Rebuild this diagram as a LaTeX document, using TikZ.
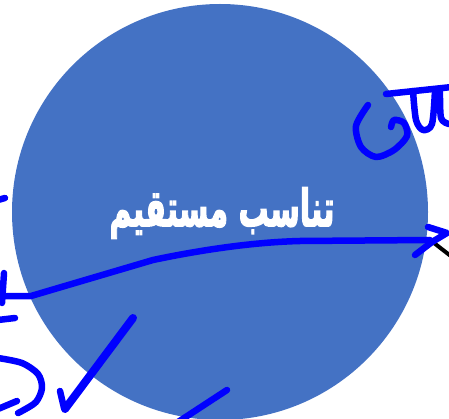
\documentclass[tikz,border=0pt]{standalone}
\usepackage{fontspec}
\usepackage{graphicx}
\TeXXeTstate=1
\newfontfamily\arabicfont[Script=Arabic,FakeBold=3]{DejaVu Sans}
\definecolor{disc}{HTML}{4472C4}
\definecolor{ink}{HTML}{0000FF}
\tikzset{
  inkstroke/.style={draw=ink, line width=6.5pt, line cap=round, line join=round},
  blackstroke/.style={draw=black, line width=4pt, line cap=round},
  label/.style={text=white, font=\arabicfont\bfseries\fontsize{30}{34}\selectfont, inner sep=0pt}
}
\begin{document}
\begin{tikzpicture}[x=1pt, y=-1pt]
\useasboundingbox (0,0) rectangle (449,419);
\clip (0,0) rectangle (449,419);
% disc
\fill[disc] (220,212) circle[radius=208];
\node[label] (title) at (222,213) {\scalebox{1}[1.7]{\beginR تناسب مستقیم\endR}};
% black tail
\coordinate (bt1) at (434,243);
\coordinate (bt2) at (452,257);
\draw[blackstroke] (bt1) -- (bt2);
% arrow
\coordinate (a0) at (0,296);
\coordinate (a1) at (31,296);
\coordinate (a2) at (153,260);
\coordinate (a3) at (430,240);
\draw[inkstroke] (a0) -- (a1) -- (a2) .. controls (210,248) and (260,242) .. (300,241) -- (a3);
\draw[inkstroke] (428,227) -- (447,233) -- (432,242) -- (415,255);
% left marks
\draw[inkstroke] (-2,200) -- (5,198);
\draw[inkstroke] (4,273) -- (2,303);
\draw[inkstroke] (-2,320) -- (15,318);
% D-like mark
\draw[inkstroke] plot[smooth] coordinates {(-2,358) (22,363) (38,374) (42,388) (36,402) (22,411) (18,413)};
\draw[inkstroke] (-2,409) -- (17,401);
% check mark
\draw[inkstroke, line width=8pt] (133,318) -- (65,409);
\draw[inkstroke] (60,391) -- (64,408);
% bottom line
\draw[inkstroke] (227,390) -- (175,424);
% spiral top right
\draw[inkstroke] plot[smooth] coordinates {(368,105) (356,126) (361,147) (376,157) (394,150) (407,136) (404,123) (394,120) (391,127)};
% T-like marks
\draw[inkstroke] (386,94) -- (452,87);
\draw[inkstroke] plot[smooth] coordinates {(413,91) (416,120) (423,130) (432,124) (435,90)};
\draw[inkstroke] plot[smooth] coordinates {(440,90) (441,118) (449,124)};
\end{tikzpicture}
\end{document}
